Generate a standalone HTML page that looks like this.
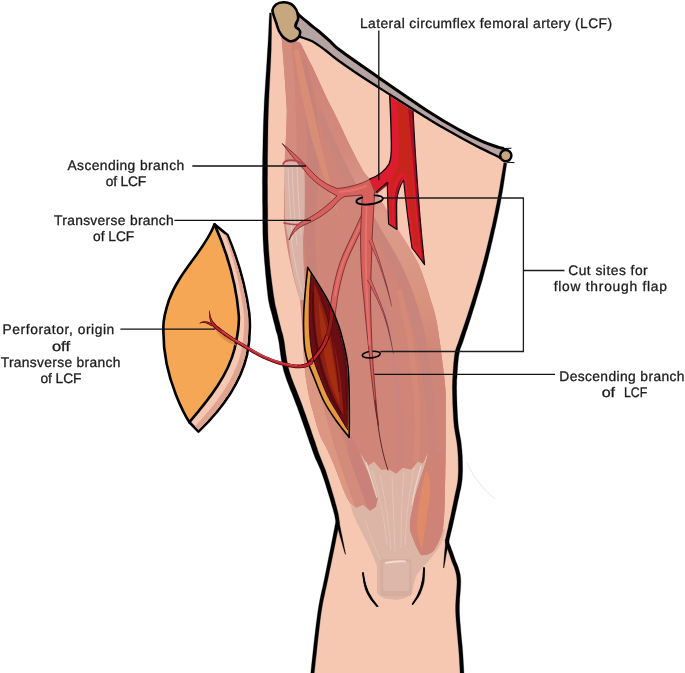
<!DOCTYPE html>
<html>
<head>
<meta charset="utf-8">
<title>Lateral circumflex femoral artery flap diagram</title>
<style>
html,body{margin:0;padding:0;background:#fff;}
body{width:685px;height:673px;overflow:hidden;font-family:"Liberation Sans",sans-serif;}
svg{display:block;}
text{font-family:"Liberation Sans",sans-serif;font-size:13.8px;fill:#1c1c1c;stroke:#1c1c1c;stroke-width:0.3px;text-rendering:geometricPrecision;}
</style>
</head>
<body>
<svg width="685" height="673" viewBox="0 0 685 673">
<defs>
  <clipPath id="thighClip">
    <path d="M270.5,12.9 L270.4,15.6 L270.4,19.0 L270.3,23.1 L270.2,27.7 L270.0,32.8 L269.8,38.3 L269.6,44.0 L269.4,50.0 L269.1,56.4 L268.7,63.3 L268.3,70.6 L267.8,78.3 L267.3,86.1 L266.9,94.0 L266.5,101.8 L266.2,109.4 L265.9,116.9 L265.7,124.6 L265.5,132.3 L265.4,139.9 L265.3,147.5 L265.2,154.9 L265.1,162.0 L265.0,168.8 L265.0,175.4 L264.9,181.8 L265.0,188.0 L265.0,194.1 L265.0,199.8 L265.1,205.2 L265.2,210.3 L265.2,215.0 L265.2,219.1 L265.2,222.6 L265.3,225.7 L265.3,228.5 L265.3,231.2 L265.4,233.9 L265.5,236.8 L265.6,240.0 L265.8,243.5 L266.0,247.2 L266.2,250.9 L266.5,254.7 L266.8,258.6 L267.1,262.4 L267.5,266.2 L267.8,270.0 L268.2,273.8 L268.6,277.7 L269.0,281.7 L269.5,285.6 L269.9,289.5 L270.4,293.1 L270.9,296.4 L271.3,299.4 L271.7,302.0 L272.2,304.1 L272.6,306.1 L273.0,307.8 L273.4,309.4 L273.8,310.9 L274.3,312.5 L274.7,314.3 L275.2,316.2 L275.6,318.1 L276.1,320.0 L276.6,321.9 L277.1,323.8 L277.5,325.7 L278.0,327.4 L278.4,329.1 L278.8,330.5 L279.1,331.6 L279.4,332.6 L279.7,333.6 L280.0,334.6 L280.4,336.0 L280.7,337.7 L281.2,340.0 L281.7,342.8 L282.1,346.1 L282.6,349.8 L283.1,353.8 L283.8,357.9 L284.5,362.1 L285.3,366.4 L286.4,370.6 L287.7,374.8 L289.2,379.1 L290.8,383.6 L292.6,388.1 L294.4,392.6 L296.2,397.2 L298.0,401.7 L299.7,406.2 L301.4,410.8 L303.1,415.6 L304.8,420.6 L306.5,425.5 L308.1,430.2 L309.7,434.6 L311.0,438.5 L312.2,441.9 L313.1,444.6 L313.8,446.6 L314.3,448.1 L314.7,449.4 L315.1,450.5 L315.5,451.7 L316.0,453.1 L316.7,454.9 L317.5,456.9 L318.4,459.0 L319.3,461.2 L320.3,463.4 L321.3,465.8 L322.4,468.5 L323.5,471.4 L324.6,474.6 L325.8,478.3 L327.2,482.7 L328.7,487.4 L330.1,492.2 L331.6,497.0 L332.9,501.6 L334.1,505.6 L335.0,509.0 L335.7,511.7 L336.3,514.0 L336.7,515.9 L336.9,517.5 L337.2,518.9 L337.3,520.0 L337.5,521.0 L337.6,521.8 L337.6,521.8 L337.3,523.4 L336.9,525.5 L336.4,527.9 L335.9,530.6 L335.3,533.7 L334.7,536.9 L334.0,540.3 L333.3,543.8 L332.6,547.5 L331.7,551.6 L330.9,555.9 L330.0,560.3 L329.0,564.9 L328.1,569.5 L327.2,574.0 L326.3,578.4 L325.4,582.6 L324.6,586.5 L323.7,590.3 L322.8,594.1 L322.0,598.2 L321.1,602.6 L320.3,607.5 L319.4,613.0 L318.5,619.7 L317.5,627.6 L316.5,636.3 L315.5,645.2 L314.6,653.8 L313.7,661.6 L313.0,668.2 L312.5,673.0 L462.0,673.0 L461.9,671.4 L461.8,669.5 L461.7,667.2 L461.5,664.5 L461.4,661.6 L461.2,658.3 L461.0,654.8 L460.7,651.0 L460.4,646.8 L459.9,642.0 L459.4,636.8 L458.9,631.4 L458.5,625.9 L458.0,620.5 L457.7,615.3 L457.5,610.5 L457.5,606.0 L457.7,601.5 L457.9,597.2 L458.3,593.0 L458.6,588.9 L458.8,585.1 L458.9,581.4 L458.7,578.0 L458.3,574.9 L457.7,572.0 L456.9,569.4 L456.1,566.9 L455.2,564.6 L454.3,562.4 L453.4,560.1 L452.6,557.9 L451.8,555.6 L451.0,553.2 L450.1,550.8 L449.3,548.5 L448.5,546.4 L447.8,544.5 L447.2,542.9 L446.8,541.7 L446.8,541.7 L447.1,540.5 L447.4,539.1 L447.8,537.3 L448.3,535.4 L448.8,533.2 L449.4,530.8 L450.0,528.2 L450.6,525.5 L451.3,522.5 L452.0,519.0 L452.8,515.3 L453.7,511.4 L454.5,507.5 L455.3,503.8 L456.1,500.3 L456.7,497.2 L457.3,494.5 L457.8,492.1 L458.3,490.0 L458.7,488.0 L459.1,486.0 L459.4,484.1 L459.7,482.1 L460.0,480.0 L460.2,477.8 L460.3,475.6 L460.4,473.3 L460.5,471.0 L460.5,468.8 L460.5,466.5 L460.4,464.2 L460.4,462.0 L460.3,459.8 L460.3,457.6 L460.2,455.4 L460.0,453.3 L459.9,451.1 L459.7,448.9 L459.5,446.6 L459.2,444.2 L458.9,441.8 L458.5,439.4 L458.1,436.9 L457.6,434.5 L457.2,431.9 L456.7,429.2 L456.3,426.3 L456.0,423.3 L455.7,420.0 L455.5,416.4 L455.3,412.6 L455.1,408.7 L454.9,404.8 L454.8,401.0 L454.7,397.4 L454.6,394.2 L454.6,391.3 L454.5,388.6 L454.5,386.2 L454.6,383.8 L454.6,381.5 L454.7,379.2 L454.9,376.9 L455.0,374.4 L455.2,371.7 L455.4,369.0 L455.6,366.1 L455.8,363.3 L456.1,360.5 L456.4,357.8 L456.7,355.3 L457.1,353.0 L457.5,351.1 L457.9,349.5 L458.3,348.2 L458.8,346.9 L459.3,345.6 L459.8,344.1 L460.5,342.3 L461.3,340.0 L462.2,337.3 L463.2,334.3 L464.3,331.1 L465.4,327.7 L466.7,324.1 L467.9,320.3 L469.2,316.3 L470.5,312.2 L471.8,307.9 L473.3,303.3 L474.8,298.5 L476.3,293.6 L477.8,288.6 L479.3,283.5 L480.7,278.5 L482.1,273.6 L483.4,268.8 L484.7,263.9 L486.0,259.0 L487.2,254.1 L488.4,249.3 L489.6,244.4 L490.7,239.6 L491.8,234.9 L492.9,230.2 L493.9,225.6 L494.9,221.0 L495.9,216.4 L496.8,211.8 L497.8,207.3 L498.6,202.8 L499.5,198.3 L500.4,193.6 L501.2,188.6 L502.1,183.4 L502.9,178.4 L503.6,173.6 L504.3,169.3 L504.9,165.7 L505.3,163.0 L499.0,152.0 L459.0,133.0 L430.0,116.0 L379.0,82.5 L337.0,54.0 L325.0,44.0 L312.0,35.0 L300.0,26.0 L285.0,28.0 Z"/>
  </clipPath>
  <filter id="noop" filterUnits="userSpaceOnUse" x="0" y="0" width="685" height="673"><feOffset dx="0" dy="0"/></filter>
  <filter id="soft" x="-10%" y="-10%" width="120%" height="120%"><feGaussianBlur stdDeviation="0.8"/></filter>
</defs>

<!-- ============ THIGH SKIN ============ -->
<g id="thigh">
  <path d="M270.5,12.9 L270.4,15.6 L270.4,19.0 L270.3,23.1 L270.2,27.7 L270.0,32.8 L269.8,38.3 L269.6,44.0 L269.4,50.0 L269.1,56.4 L268.7,63.3 L268.3,70.6 L267.8,78.3 L267.3,86.1 L266.9,94.0 L266.5,101.8 L266.2,109.4 L265.9,116.9 L265.7,124.6 L265.5,132.3 L265.4,139.9 L265.3,147.5 L265.2,154.9 L265.1,162.0 L265.0,168.8 L265.0,175.4 L264.9,181.8 L265.0,188.0 L265.0,194.1 L265.0,199.8 L265.1,205.2 L265.2,210.3 L265.2,215.0 L265.2,219.1 L265.2,222.6 L265.3,225.7 L265.3,228.5 L265.3,231.2 L265.4,233.9 L265.5,236.8 L265.6,240.0 L265.8,243.5 L266.0,247.2 L266.2,250.9 L266.5,254.7 L266.8,258.6 L267.1,262.4 L267.5,266.2 L267.8,270.0 L268.2,273.8 L268.6,277.7 L269.0,281.7 L269.5,285.6 L269.9,289.5 L270.4,293.1 L270.9,296.4 L271.3,299.4 L271.7,302.0 L272.2,304.1 L272.6,306.1 L273.0,307.8 L273.4,309.4 L273.8,310.9 L274.3,312.5 L274.7,314.3 L275.2,316.2 L275.6,318.1 L276.1,320.0 L276.6,321.9 L277.1,323.8 L277.5,325.7 L278.0,327.4 L278.4,329.1 L278.8,330.5 L279.1,331.6 L279.4,332.6 L279.7,333.6 L280.0,334.6 L280.4,336.0 L280.7,337.7 L281.2,340.0 L281.7,342.8 L282.1,346.1 L282.6,349.8 L283.1,353.8 L283.8,357.9 L284.5,362.1 L285.3,366.4 L286.4,370.6 L287.7,374.8 L289.2,379.1 L290.8,383.6 L292.6,388.1 L294.4,392.6 L296.2,397.2 L298.0,401.7 L299.7,406.2 L301.4,410.8 L303.1,415.6 L304.8,420.6 L306.5,425.5 L308.1,430.2 L309.7,434.6 L311.0,438.5 L312.2,441.9 L313.1,444.6 L313.8,446.6 L314.3,448.1 L314.7,449.4 L315.1,450.5 L315.5,451.7 L316.0,453.1 L316.7,454.9 L317.5,456.9 L318.4,459.0 L319.3,461.2 L320.3,463.4 L321.3,465.8 L322.4,468.5 L323.5,471.4 L324.6,474.6 L325.8,478.3 L327.2,482.7 L328.7,487.4 L330.1,492.2 L331.6,497.0 L332.9,501.6 L334.1,505.6 L335.0,509.0 L335.7,511.7 L336.3,514.0 L336.7,515.9 L336.9,517.5 L337.2,518.9 L337.3,520.0 L337.5,521.0 L337.6,521.8 L337.6,521.8 L337.3,523.4 L336.9,525.5 L336.4,527.9 L335.9,530.6 L335.3,533.7 L334.7,536.9 L334.0,540.3 L333.3,543.8 L332.6,547.5 L331.7,551.6 L330.9,555.9 L330.0,560.3 L329.0,564.9 L328.1,569.5 L327.2,574.0 L326.3,578.4 L325.4,582.6 L324.6,586.5 L323.7,590.3 L322.8,594.1 L322.0,598.2 L321.1,602.6 L320.3,607.5 L319.4,613.0 L318.5,619.7 L317.5,627.6 L316.5,636.3 L315.5,645.2 L314.6,653.8 L313.7,661.6 L313.0,668.2 L312.5,673.0 L462.0,673.0 L461.9,671.4 L461.8,669.5 L461.7,667.2 L461.5,664.5 L461.4,661.6 L461.2,658.3 L461.0,654.8 L460.7,651.0 L460.4,646.8 L459.9,642.0 L459.4,636.8 L458.9,631.4 L458.5,625.9 L458.0,620.5 L457.7,615.3 L457.5,610.5 L457.5,606.0 L457.7,601.5 L457.9,597.2 L458.3,593.0 L458.6,588.9 L458.8,585.1 L458.9,581.4 L458.7,578.0 L458.3,574.9 L457.7,572.0 L456.9,569.4 L456.1,566.9 L455.2,564.6 L454.3,562.4 L453.4,560.1 L452.6,557.9 L451.8,555.6 L451.0,553.2 L450.1,550.8 L449.3,548.5 L448.5,546.4 L447.8,544.5 L447.2,542.9 L446.8,541.7 L446.8,541.7 L447.1,540.5 L447.4,539.1 L447.8,537.3 L448.3,535.4 L448.8,533.2 L449.4,530.8 L450.0,528.2 L450.6,525.5 L451.3,522.5 L452.0,519.0 L452.8,515.3 L453.7,511.4 L454.5,507.5 L455.3,503.8 L456.1,500.3 L456.7,497.2 L457.3,494.5 L457.8,492.1 L458.3,490.0 L458.7,488.0 L459.1,486.0 L459.4,484.1 L459.7,482.1 L460.0,480.0 L460.2,477.8 L460.3,475.6 L460.4,473.3 L460.5,471.0 L460.5,468.8 L460.5,466.5 L460.4,464.2 L460.4,462.0 L460.3,459.8 L460.3,457.6 L460.2,455.4 L460.0,453.3 L459.9,451.1 L459.7,448.9 L459.5,446.6 L459.2,444.2 L458.9,441.8 L458.5,439.4 L458.1,436.9 L457.6,434.5 L457.2,431.9 L456.7,429.2 L456.3,426.3 L456.0,423.3 L455.7,420.0 L455.5,416.4 L455.3,412.6 L455.1,408.7 L454.9,404.8 L454.8,401.0 L454.7,397.4 L454.6,394.2 L454.6,391.3 L454.5,388.6 L454.5,386.2 L454.6,383.8 L454.6,381.5 L454.7,379.2 L454.9,376.9 L455.0,374.4 L455.2,371.7 L455.4,369.0 L455.6,366.1 L455.8,363.3 L456.1,360.5 L456.4,357.8 L456.7,355.3 L457.1,353.0 L457.5,351.1 L457.9,349.5 L458.3,348.2 L458.8,346.9 L459.3,345.6 L459.8,344.1 L460.5,342.3 L461.3,340.0 L462.2,337.3 L463.2,334.3 L464.3,331.1 L465.4,327.7 L466.7,324.1 L467.9,320.3 L469.2,316.3 L470.5,312.2 L471.8,307.9 L473.3,303.3 L474.8,298.5 L476.3,293.6 L477.8,288.6 L479.3,283.5 L480.7,278.5 L482.1,273.6 L483.4,268.8 L484.7,263.9 L486.0,259.0 L487.2,254.1 L488.4,249.3 L489.6,244.4 L490.7,239.6 L491.8,234.9 L492.9,230.2 L493.9,225.6 L494.9,221.0 L495.9,216.4 L496.8,211.8 L497.8,207.3 L498.6,202.8 L499.5,198.3 L500.4,193.6 L501.2,188.6 L502.1,183.4 L502.9,178.4 L503.6,173.6 L504.3,169.3 L504.9,165.7 L505.3,163.0 L499.0,152.0 L459.0,133.0 L430.0,116.0 L379.0,82.5 L337.0,54.0 L325.0,44.0 L312.0,35.0 L300.0,26.0 L285.0,28.0 Z" fill="#f6c8b2"/>
</g>

<!-- ============ MUSCLES ============ -->
<defs>
  <linearGradient id="rband" gradientUnits="userSpaceOnUse" x1="0" y1="60" x2="0" y2="360">
    <stop offset="0" stop-color="#cf8477"/><stop offset="0.3" stop-color="#d38a7c"/><stop offset="0.53" stop-color="#dc9c8c"/><stop offset="0.8" stop-color="#d8937f"/><stop offset="1" stop-color="#cf8577"/>
  </linearGradient>
</defs>
<g id="muscles" clip-path="url(#thighClip)">
  <!-- base muscle mass -->
  <path d="M281.5,36 C283,55 285.5,85 286.8,110 C286.5,130 285,156 284,200 L284,223 C286,245 292,275 300,300 C302,320 303,345 305.5,376 C307.5,390 309.5,400 312.5,410 C315.5,422 318,430 321.5,439 C328,450 332,460 336,470 C340,480 343,490 347,498 L350,503 L356,508 L363,505 L370,511 L376,507 L378,498 C375,490 372,482 369.5,475 C366,467 363,460 360,453 L368,466 L374,462 L381,470 L389,469.6 L396,474 L403,468 L411,470 L418,462 L423,464 L428,453 C424,470 415,490 412,509.5 C410,518 409,525 410,531 C413,540 417,550 421,555.5 C426,556 431,554 434,551 C438,545 441,538 442.7,531 C444.5,518 445,500 445,487.6 L446,440 L446,400 C446,392 445,385 444.4,378 C443,366 441.5,355 440,343 C438,328 436,314 431,301 C428,290 424,278 419,265 C413,253 406,242 398,230 C393,220 387,210 380.5,200 C378,194 375,188 372.5,182.6 C369,178 366,175 363.4,171.4 C356,158 349,144 343,131 C338,120 333,110 328,100.7 C323,90 318,79 313,68 C308,59 304,50 300,42.6 Z" fill="#cf8577"/>
  <!-- upper right lighter band (sartorius edge) -->
  <path d="M300,42.6 C304,50 308,59 313,68 C318,79 323,90 328,100.7 C333,110 338,120 343,131 C349,144 356,158 363.4,171.4 C366,175 369,178 372.5,182.6 C375,188 378,194 380.5,200 C387,210 393,220 398,230 C406,242 413,253 419,265 C424,278 428,290 431,301 C436,314 438,328 440,343 C441.5,355 443,366 444.4,378 C445,385 446,392 446,400 L446,440 L445,487.6 L436,487 C437,460 436,430 434,400 C432,375 428,350 423,325 C418,305 411,285 402,266 C394,250 384,235 376,220 C368,205 358,188 350,172 C340,152 330,130 322,110 C314,90 306,68 298,46 Z" fill="url(#rband)"/>
  <!-- mauve inner streak beside light band -->
  <path d="M322,112 C330,132 340,154 350,174 C358,190 368,207 376,222 C384,237 394,252 402,268 C411,287 418,307 423,327 C428,352 432,377 434,402 C436,432 437,462 436,490 L428,490 C430,460 429,430 426,402 C423,377 419,352 414,330 C409,310 402,290 394,272 C386,256 376,240 368,226 C360,210 350,192 342,176 C333,158 324,136 318,118 Z" fill="#c48580" opacity="0.5"/>
  <!-- upper left lighter band -->
  <path d="M281.5,36 C283,55 285.5,85 286.8,110 C286.8,130 285,150 284.5,165 L297,165 C297,140 296,110 295,90 C294,70 292,55 291,42 Z" fill="#d38c7e"/>
  <!-- mauve band right of fascia -->
  <path d="M300,60 C302,85 305,110 307,135 C307,170 304,200 304,232 C305,255 308,275 311,295 L320,300 C317,278 315,255 315,232 C316,200 319,170 320,140 C318,112 312,85 306,60 Z" fill="#c5817b" opacity="0.75"/>
  <!-- central orange streaks -->
  <path d="M294,50 C298,80 304,110 312,140 C320,168 330,195 340,220 C334,196 326,168 320,140 C314,112 306,80 299,50 Z" fill="#d98e76" opacity="0.9"/>
  <path d="M396,290 C404,320 410,355 413,390 C415,415 415,440 413,462 L419,462 C421,440 421,415 419,390 C416,355 410,320 402,290 Z" fill="#d98e76" opacity="0.55"/>
  <path d="M380,300 C388,335 393,370 396,405 C398,430 398,450 397,470 L402,468 C403,450 403,430 401,405 C398,370 393,335 386,300 Z" fill="#c98683" opacity="0.6"/>
  <!-- lower left lateral bands -->
  <path d="M302.5,335 C303,350 304,365 305.5,376 C307.5,390 309.5,400 312.5,410 C315.5,422 318,430 321.5,439 C328,450 332,460 336,470 C340,480 343,490 347,498 L350,503 L356,508 C350,492 344,476 339,460 C333,442 327,420 322,400 C317,380 312,358 309,340 Z" fill="#dc9782"/>
  <path d="M309,340 C312,358 317,380 322,400 C327,420 333,442 339,460 C344,476 350,492 356,508 L363,505 L368,509 C362,492 355,474 349,456 C343,438 337,418 332,400 C327,382 322,362 318,345 Z" fill="#d38b7c"/>
  <path d="M349,456 C355,474 362,492 368,509 L370,511 L376,507 L378,498 C375,490 372,482 369.5,475 C366,467 363,460 360,453 C356,445 352,437 348,430 C347,440 347,448 349,456 Z" fill="#c9817a"/>
  <!-- vastus medialis (lower right) -->
  <path d="M428,453 C424,470 415,490 412,509.5 C410,518 409,525 410,531 C413,540 417,550 421,555.5 C426,556 431,554 434,551 C438,545 441,538 442.7,531 C444.5,518 445,500 445,487.6 L445,450 Z" fill="#cf8377"/>
  <path d="M426,470 C421,490 417,510 417,528 C418,538 420,545 422,550 C424,535 427,515 430,495 C431,485 430,476 426,470 Z" fill="#e08c68" opacity="0.9"/>
  <!-- pale fascia patch (upper-left) -->
  <path d="M284.5,162 C290,159 298,159 304,163 C305,180 305,200 304.5,220 C304,228 303.4,234 303,240 C303,248 303.2,255 303.5,262 C304,270 304.5,278 305,285 L306,300 L300,300 C298.5,295 297,290 296,285 C294,277 292.5,270 291,262 C290,255 289.2,248 288.5,240 C287,233 285.8,226 285,220 C284.6,200 284.3,180 284.5,162 Z" fill="#dcb9ad" opacity="0.88"/>
  <path d="M288,168 C289,190 290,215 293,240 M292,166 C293,190 294,215 297,245 M297,166 C298,190 299,210 301,235 M291,235 C293,255 297,275 302,292" stroke="#efdcd4" stroke-width="0.8" fill="none" opacity="0.6"/>
</g>

<!-- ============ TENDON / PATELLA ============ -->
<g id="tendon" clip-path="url(#thighClip)">
  <!-- pale quadriceps tendon -->
  <path d="M360,453 L368,466 L374,462 L381,470 L389,469.6 L396,474 L403,468 L411,470 L418,462 L423,464 L428,453 C424,470 415,490 412,509.5 C410,518 409,525 410,531 C413,540 417,550 421,555.5 C426,556 431,554 434,551 C438,545 441,538 442.7,531 L445,527 C445,535 442,543 438,549 C430,560 422,568 416.5,575 C414,582 413,588 412,592.7 C408,599 396,601 390,599 C384,599 379,596 377,592.7 L377,566.5 C374,558 371,551 368,544.5 C362,533 357,523 353,514 L350,503 L356,508 L363,505 L370,511 L376,507 L378,498 C375,490 372,482 369.5,475 C366,467 363,460 360,453 Z" fill="#dcb5a7"/>
  <!-- streaks -->
  <path d="M372,470 C378,490 384,515 387,545 M380,474 C384,495 389,520 391,550 M392,476 C393,500 394,525 395,552 M404,472 C402,495 401,520 401,548 M414,468 C410,490 406,515 405,545 M365,520 C370,535 375,548 380,560" stroke="#e8cabd" stroke-width="0.9" fill="none" opacity="0.7"/>
  <path d="M366,462 C370,475 374,488 377,498 M421,466 C417,480 414,492 412,505" stroke="#f1dcd2" stroke-width="1.2" fill="none" opacity="0.8"/>
  <!-- patella block -->
  <rect x="380.5" y="559" width="31" height="37" rx="3" fill="#d6ad9f"/>
  <rect x="383.3" y="561.5" width="26" height="29.5" rx="2.5" fill="#ddb8aa"/>
  <path d="M386,562.8 C392,561.4 398,561 405,561.4" stroke="#f3dccd" stroke-width="1.8" fill="none" stroke-linecap="round"/>
</g>
<g id="patellaLines" fill="none" stroke="#000" stroke-linecap="round">
  <path d="M363,573 C364,586 369,598 377,606" stroke-width="1.8"/>
  <path d="M424,568 C424,582 420,595 412.7,604" stroke-width="1.8"/>
</g>

<!-- ============ PINK VESSELS UNDER MUSCLE ============ -->
<g id="vessels" clip-path="url(#thighClip)" stroke-linecap="round" stroke-linejoin="round" fill="none">
  <!-- oblique branch towards wound (drawn first, under trunk) -->
  <path d="M366,212 C360,226 354,238 348,251 C342,263 338,278 335,295 C333,308 332,316 331,322" stroke="#7e3436" stroke-width="6.8"/>
  <path d="M366,212 C360,226 354,238 348,251 C342,263 338,278 335,295 C333,308 332,316 331,322" stroke="#d8605d" stroke-width="5"/>
  <path d="M364,216 C358,230 352,242 346.5,254 C341,266 337.5,280 335,296" stroke="#e2746c" stroke-width="1.8"/>
  <!-- LCF trunk + ascending + transverse + descending, one filled shape -->
  <path d="M369.5,179.5 C362,183.5 352,187 337.3,188.5 C330,186 322,182 316,176 C308,168 300,158 282.2,143.5 C292,156 298,164 304.5,170 C310,178 318,185 330,192 L337,196 C328,205 318,213 308,218.5 C300,222 294,225 289,240 C293,232 298,228 304,225 C314,221 326,214 334,206 C338,201 341,198 345,196.5 C351,196 357,195.5 362,195 L362,201 C361.5,215 360.5,230 360.6,240 C360.8,262 361.5,280 364,300 C365.5,318 367.5,338 369.3,354 C370.8,372 373.2,392 375.6,410 C376.6,416 377.6,421 378.6,426 C378,420 377.4,415 376.8,410 C375,390 373.5,372 372.3,354 C371.5,335 370.8,318 370.5,300 C370.5,280 371.5,262 372,240 C372.5,228 373.5,214 374,203 L374.7,192 Z" fill="#d8605d" stroke="#7e3436" stroke-width="1"/>
  <path d="M366,186 C358,189.5 350,191 340,192" stroke="#e2746c" stroke-width="2.2"/>
  <path d="M366.5,206 C366,225 365.5,245 366,270 C366.5,295 368,320 369.5,345" stroke="#e2746c" stroke-width="2"/>
  <!-- ascending branch side hook -->
  <path d="M306,166 C300,161 292,159 286,161 C284,162 283.5,163 283.2,164" stroke="#b2454f" stroke-width="1.9"/>
  <!-- transverse side twig -->
  <path d="M299,224.5 C294,225 289,224 284,223" stroke="#b2454f" stroke-width="1.6"/>
  <!-- right side twigs -->
  <path d="M368.5,240.8 L368.9,241.4 L369.3,242.3 L369.8,243.4 L370.3,244.5 L370.8,245.8 L371.4,247.1 L372.0,248.4 L372.5,249.6 L373.0,250.8 L373.6,252.0 L374.1,253.1 L374.7,254.3 L375.2,255.6 L375.8,256.8 L376.3,258.1 L376.9,259.4 L377.4,260.8 L377.9,262.2 L378.5,263.7 L379.0,265.1 L379.5,266.7 L380.1,268.2 L380.6,269.7 L381.1,271.3 L381.7,272.8 L382.2,274.4 L382.7,276.0 L383.3,277.7 L383.8,279.3 L384.3,280.9 L384.8,282.6 L385.3,284.2 L385.8,285.8 L386.3,287.5 L386.8,289.2 L387.3,290.9 L387.7,292.5 L388.2,294.1 L388.6,295.7 L389.0,297.1 L389.4,298.5 L389.8,300.0 L390.1,301.4 L390.5,302.7 L390.8,303.9 L391.0,305.0 L391.3,305.9 L391.5,306.7 L391.9,306.5 L391.8,305.8 L391.6,304.9 L391.4,303.8 L391.2,302.5 L390.9,301.2 L390.6,299.8 L390.3,298.3 L390.0,296.9 L389.6,295.4 L389.3,293.9 L388.9,292.2 L388.4,290.6 L388.0,288.9 L387.6,287.2 L387.1,285.5 L386.7,283.8 L386.2,282.2 L385.8,280.5 L385.3,278.9 L384.8,277.2 L384.3,275.6 L383.8,273.9 L383.3,272.3 L382.9,270.7 L382.4,269.2 L381.9,267.6 L381.5,266.0 L381.0,264.5 L380.5,263.0 L380.1,261.5 L379.6,260.0 L379.1,258.6 L378.7,257.2 L378.2,255.9 L377.7,254.6 L377.3,253.3 L376.8,252.0 L376.4,250.8 L375.9,249.6 L375.5,248.4 L375.1,247.2 L374.6,245.8 L374.2,244.5 L373.7,243.2 L373.3,242.0 L373.0,240.9 L372.7,240.0 L372.5,239.2 Z" fill="#7a3a42" stroke="none"/>
  <path d="M369.2,240.5 L369.5,241.2 L369.9,242.1 L370.4,243.1 L370.9,244.3 L371.5,245.6 L372.0,246.9 L372.6,248.1 L373.1,249.4 L373.6,250.5 L374.2,251.7 L374.7,252.9 L375.3,254.1 L375.8,255.3 L376.4,256.6 L376.9,257.9 L377.5,259.2 L378.0,260.6 L378.6,262.0 L379.1,263.4 L379.6,264.9 L380.2,266.5 L380.7,268.0 L381.2,269.5 L381.8,271.1 L382.3,272.6 L382.8,274.2 L383.4,275.8 L383.9,277.5 L384.4,279.1 L385.0,280.7 L385.5,282.4 L386.0,284.0 L386.5,285.6 L386.9,287.3 L387.4,289.0 L387.9,290.7 L388.3,292.4 L388.7,294.0 L389.1,295.5 L389.5,297.0 L389.9,298.4 L390.2,299.9 L390.5,301.3 L390.8,302.6 L391.1,303.9 L391.3,305.0 L391.5,305.9 L391.7,306.6 L391.7,306.6 L391.5,305.9 L391.3,305.0 L391.1,303.9 L390.8,302.6 L390.5,301.3 L390.2,299.9 L389.9,298.4 L389.5,297.0 L389.1,295.5 L388.7,294.0 L388.3,292.4 L387.9,290.7 L387.4,289.0 L386.9,287.3 L386.5,285.6 L386.0,284.0 L385.6,282.4 L385.1,280.7 L384.6,279.1 L384.2,277.4 L383.7,275.8 L383.2,274.1 L382.7,272.5 L382.2,270.9 L381.8,269.4 L381.3,267.8 L380.8,266.2 L380.4,264.7 L379.9,263.2 L379.4,261.7 L379.0,260.2 L378.5,258.8 L378.1,257.4 L377.6,256.1 L377.1,254.8 L376.7,253.5 L376.2,252.3 L375.8,251.1 L375.3,249.9 L374.9,248.6 L374.5,247.4 L374.0,246.1 L373.5,244.8 L373.1,243.5 L372.7,242.2 L372.3,241.1 L372.0,240.2 L371.8,239.5 Z" fill="#d8605d" stroke="none"/>
  <path d="M366.9,279.9 L367.3,280.5 L367.7,281.4 L368.3,282.4 L368.9,283.6 L369.6,284.8 L370.2,286.1 L370.9,287.4 L371.5,288.7 L372.2,289.9 L372.8,291.2 L373.5,292.5 L374.2,293.9 L374.9,295.2 L375.5,296.6 L376.2,298.0 L376.9,299.5 L377.6,300.9 L378.2,302.5 L378.9,304.0 L379.6,305.5 L380.3,307.1 L380.9,308.7 L381.5,310.3 L382.2,311.8 L382.7,313.3 L383.3,314.8 L383.8,316.3 L384.3,317.8 L384.8,319.4 L385.3,320.9 L385.8,322.5 L386.3,324.2 L386.8,325.9 L387.3,327.7 L387.8,329.6 L388.2,331.5 L388.7,333.4 L389.1,335.3 L389.6,337.2 L390.0,339.1 L390.5,341.1 L390.9,343.2 L391.4,345.4 L391.8,347.5 L392.2,349.5 L392.6,351.4 L392.9,352.9 L393.2,354.0 L393.6,354.0 L393.5,352.8 L393.2,351.2 L392.9,349.4 L392.5,347.4 L392.2,345.2 L391.8,343.0 L391.4,340.9 L391.0,338.9 L390.6,337.0 L390.2,335.1 L389.8,333.1 L389.4,331.2 L389.0,329.3 L388.6,327.4 L388.1,325.6 L387.7,323.8 L387.2,322.1 L386.8,320.5 L386.3,318.9 L385.9,317.3 L385.4,315.8 L384.9,314.3 L384.4,312.8 L383.8,311.2 L383.3,309.6 L382.7,308.0 L382.1,306.4 L381.5,304.8 L380.9,303.2 L380.3,301.6 L379.7,300.0 L379.1,298.5 L378.5,297.0 L377.9,295.6 L377.3,294.1 L376.7,292.7 L376.1,291.3 L375.6,289.9 L375.0,288.6 L374.5,287.3 L373.9,286.0 L373.4,284.7 L372.8,283.3 L372.3,282.0 L371.8,280.8 L371.3,279.7 L371.0,278.8 L370.7,278.1 Z" fill="#7a3a42" stroke="none"/>
  <path d="M367.5,279.6 L367.9,280.3 L368.4,281.1 L368.9,282.2 L369.5,283.3 L370.2,284.6 L370.8,285.8 L371.5,287.1 L372.1,288.4 L372.8,289.6 L373.4,290.9 L374.1,292.2 L374.8,293.6 L375.5,295.0 L376.1,296.4 L376.8,297.8 L377.5,299.2 L378.2,300.7 L378.8,302.2 L379.5,303.7 L380.2,305.3 L380.9,306.9 L381.5,308.5 L382.2,310.0 L382.8,311.6 L383.3,313.1 L383.9,314.6 L384.4,316.1 L385.0,317.6 L385.5,319.2 L386.0,320.7 L386.5,322.3 L387.0,324.0 L387.5,325.8 L387.9,327.6 L388.4,329.4 L388.8,331.3 L389.3,333.3 L389.7,335.2 L390.1,337.1 L390.5,339.0 L390.9,341.0 L391.3,343.1 L391.8,345.3 L392.2,347.4 L392.6,349.5 L392.9,351.3 L393.2,352.8 L393.4,354.0 L393.4,354.0 L393.2,352.8 L392.9,351.3 L392.6,349.5 L392.2,347.4 L391.8,345.3 L391.3,343.1 L390.9,341.0 L390.5,339.0 L390.1,337.1 L389.7,335.2 L389.3,333.3 L388.8,331.3 L388.4,329.4 L387.9,327.6 L387.5,325.8 L387.0,324.0 L386.6,322.3 L386.1,320.7 L385.7,319.1 L385.2,317.6 L384.7,316.0 L384.3,314.5 L383.8,313.0 L383.2,311.4 L382.7,309.8 L382.1,308.2 L381.5,306.6 L380.9,305.0 L380.3,303.4 L379.7,301.8 L379.1,300.3 L378.5,298.8 L377.9,297.3 L377.3,295.8 L376.7,294.4 L376.1,293.0 L375.5,291.6 L375.0,290.2 L374.4,288.9 L373.9,287.6 L373.3,286.3 L372.8,285.0 L372.2,283.6 L371.7,282.3 L371.1,281.1 L370.7,280.0 L370.3,279.1 L370.1,278.4 Z" fill="#d8605d" stroke="none"/>
  <path d="M375.2,400 C376.2,411 377.4,421 379,432 C381.5,448 384.5,460 388,470" stroke="#5a2a28" stroke-width="1"/>
</g>

<!-- ============ FEMORAL ARTERY (red) ============ -->
<g id="artery" clip-path="url(#thighClip)">
  <!-- fill -->
  <path d="M389.7,96 L413,111 C414,130 415,150 416.5,170 C418.5,200 421,232 424.6,264.7 C420,258 416,253 412,248 C409,228 406,204 403.6,180 C400.3,185 397.5,192 396.7,202 C396.5,211 396.8,220 397,229.4 C394,227.6 391.5,226 388.6,224 C388,210 387.5,196 387.3,182.6 C383,185.5 380,189 375.9,192.2 C373.5,188 371.5,184 369.6,179.2 C378,176 385,171 389,164 C392,158 391.5,150 391.3,140 C391,125 390.5,110 389.7,96 Z" fill="#df1b30"/>
  <!-- mid tone core -->
  <path d="M397,101 L408.5,108.5 C409.5,130 411,150 412,170 C414,200 417,230 420.5,255 C418,250 416,247 414.5,245 C411.5,222 408.5,198 406.2,175 C404,172.5 401,173 398.5,175.5 C395,180.5 392.5,186 392,196 L391.7,222 L390.6,221.3 C390.1,208 389.9,196 390,184 C392.5,177 396.5,170 398,163 C399.5,150 398.5,125 397,101 Z" fill="#c7241b"/>
  <!-- dark right edge -->
  <path d="M408,108.2 L413,111 C414,130 415,150 416.5,170 C418.5,200 421,232 424.6,264.7 L422.3,261 C419,232 416,200 413.5,170 C412,150 410,130 408,108.2 Z" fill="#a51228"/>
  <!-- dark accents -->
  <path d="M404.8,175.5 C400,180 397.3,190 396.7,202 L397,229 L395.2,228 C394.6,215 394.4,203 395,195 C396,186 399.5,179 404.8,175.5 Z" fill="#a51228"/>
  <path d="M375.9,192.2 C380,189 383,185.5 387.3,182.6 L388.8,181.6 L389,184.6 C385,187 381,190.5 377,193.8 Z" fill="#a51228"/>
  <!-- outline (no stroke on the muscle-covered diagonal edge) -->
  <path d="M369.6,179.2 C378,176 385,171 389,164 C392,158 391.5,150 391.3,140 C391,125 390.5,110 389.7,96" fill="none" stroke="#12090a" stroke-width="1.4" stroke-linecap="round"/>
  <path d="M413,111 C414,130 415,150 416.5,170 C418.5,200 421,232 424.6,264.7 C420,258 416,253 412,248 C409,228 406,204 403.6,180 C400.3,185 397.5,192 396.7,202 C396.5,211 396.8,220 397,229.4 C394,227.6 391.5,226 388.6,224 C388,210 387.5,196 387.3,182.6 C383,185.5 380,189 375.9,192.2" fill="none" stroke="#12090a" stroke-width="1.2" stroke-linejoin="round" stroke-linecap="round"/>
</g>

<!-- ============ WOUND (donor site) ============ -->
<g id="wound">
  <clipPath id="woundClip"><path d="M311.0,274.0 C312.4,276.1 316.1,281.5 319.1,286.6 C322.1,291.7 326.0,297.8 329.2,304.6 C332.4,311.4 335.8,319.6 338.3,327.2 C340.8,334.8 342.9,343.4 344.3,350.0 C345.8,356.6 346.4,361.0 347.0,367.0 C347.6,373.0 347.8,378.8 348.0,386.0 C348.2,393.2 348.2,402.7 348.2,410.0 C348.2,417.3 347.9,426.7 347.8,430.0 C346.3,427.6 342.2,420.9 339.0,415.5 C335.8,410.1 331.6,403.9 328.4,397.5 C325.2,391.1 322.1,382.8 319.8,377.0 C317.5,371.2 316.0,367.5 314.6,363.0 C313.2,358.5 312.2,355.0 311.4,350.0 C310.6,345.0 310.0,339.1 309.6,333.0 C309.2,326.9 309.2,320.7 309.2,313.5 C309.2,306.3 309.5,296.6 309.8,290.0 C310.1,283.4 310.8,276.7 311.0,274.0 Z"/></clipPath>
  <clipPath id="woundOuterClip"><path d="M307.7,267.4 C309.6,270.4 315.4,279.3 319.1,285.4 C322.8,291.5 326.5,297.2 329.8,304.1 C333.1,311.0 336.5,319.2 339.1,326.9 C341.7,334.5 343.7,343.3 345.2,350.0 C346.7,356.7 347.4,361.0 348.0,367.0 C348.6,373.0 348.8,378.8 349.0,386.0 C349.2,393.2 349.3,401.4 349.3,410.0 C349.3,418.6 349.2,432.9 349.2,437.5 C346.8,434.4 339.3,425.2 335.0,419.0 C330.7,412.8 326.8,407.0 323.3,400.0 C319.8,393.0 316.3,383.2 313.8,377.0 C311.3,370.8 309.7,367.5 308.2,363.0 C306.7,358.5 305.8,354.9 305.0,350.0 C304.2,345.1 303.9,339.7 303.7,333.6 C303.5,327.5 303.4,321.3 303.7,313.5 C304.0,305.7 305.0,294.4 305.7,286.7 C306.4,279.0 307.4,270.6 307.7,267.4 Z"/></clipPath>
  <path d="M307.7,267.4 C309.6,270.4 315.4,279.3 319.1,285.4 C322.8,291.5 326.5,297.2 329.8,304.1 C333.1,311.0 336.5,319.2 339.1,326.9 C341.7,334.5 343.7,343.3 345.2,350.0 C346.7,356.7 347.4,361.0 348.0,367.0 C348.6,373.0 348.8,378.8 349.0,386.0 C349.2,393.2 349.3,401.4 349.3,410.0 C349.3,418.6 349.2,432.9 349.2,437.5 C346.8,434.4 339.3,425.2 335.0,419.0 C330.7,412.8 326.8,407.0 323.3,400.0 C319.8,393.0 316.3,383.2 313.8,377.0 C311.3,370.8 309.7,367.5 308.2,363.0 C306.7,358.5 305.8,354.9 305.0,350.0 C304.2,345.1 303.9,339.7 303.7,333.6 C303.5,327.5 303.4,321.3 303.7,313.5 C304.0,305.7 305.0,294.4 305.7,286.7 C306.4,279.0 307.4,270.6 307.7,267.4 Z" fill="#ea983e"/>
  <path d="M311.0,274.0 C312.4,276.1 316.1,281.5 319.1,286.6 C322.1,291.7 326.0,297.8 329.2,304.6 C332.4,311.4 335.8,319.6 338.3,327.2 C340.8,334.8 342.9,343.4 344.3,350.0 C345.8,356.6 346.4,361.0 347.0,367.0 C347.6,373.0 347.8,378.8 348.0,386.0 C348.2,393.2 348.2,402.7 348.2,410.0 C348.2,417.3 347.9,426.7 347.8,430.0 C346.3,427.6 342.2,420.9 339.0,415.5 C335.8,410.1 331.6,403.9 328.4,397.5 C325.2,391.1 322.1,382.8 319.8,377.0 C317.5,371.2 316.0,367.5 314.6,363.0 C313.2,358.5 312.2,355.0 311.4,350.0 C310.6,345.0 310.0,339.1 309.6,333.0 C309.2,326.9 309.2,320.7 309.2,313.5 C309.2,306.3 309.5,296.6 309.8,290.0 C310.1,283.4 310.8,276.7 311.0,274.0 Z" fill="#6b0e14"/>
  <g clip-path="url(#woundClip)">
    <path d="M314.5,283.0 C315.5,285.8 318.3,293.8 320.5,300.0 C322.7,306.2 325.3,313.0 327.5,320.0 C329.7,327.0 331.7,334.5 333.5,342.0 C335.3,349.5 337.2,357.0 338.5,365.0 C339.8,373.0 340.7,381.7 341.5,390.0 C342.3,398.3 343.2,410.8 343.5,415.0 C342.3,412.8 338.8,406.8 336.5,402.0 C334.2,397.2 331.7,391.7 329.5,386.0 C327.3,380.3 325.3,374.3 323.5,368.0 C321.7,361.7 319.9,355.2 318.5,348.0 C317.1,340.8 315.9,333.0 315.2,325.0 C314.4,317.0 314.1,307.0 314.0,300.0 C313.9,293.0 314.4,285.8 314.5,283.0 Z" fill="#8f1f10"/>
    <path d="M318.5,300.0 C319.3,303.0 321.7,311.3 323.5,318.0 C325.3,324.7 327.8,332.7 329.5,340.0 C331.2,347.3 332.2,354.5 333.5,362.0 C334.8,369.5 336.4,377.8 337.5,385.0 C338.6,392.2 339.6,401.7 340.0,405.0 C338.9,402.5 335.5,395.5 333.5,390.0 C331.5,384.5 329.6,378.3 328.0,372.0 C326.4,365.7 325.2,359.3 324.0,352.0 C322.8,344.7 321.4,336.7 320.5,328.0 C319.6,319.3 318.8,304.7 318.5,300.0 Z" fill="#a52e10"/>
    <path d="M313.0,292.0 C313.1,296.7 312.8,310.7 313.5,320.0 C314.2,329.3 315.4,339.0 317.0,348.0 C318.6,357.0 320.5,365.7 323.0,374.0 C325.5,382.3 329.0,391.3 332.0,398.0 C335.0,404.7 339.5,411.3 341.0,414.0" fill="none" stroke="#4d0a10" stroke-width="2.2" opacity="0.8"/>
    <path d="M321.5,296.0 C322.5,299.7 325.7,310.3 327.5,318.0 C329.3,325.7 331.0,334.0 332.5,342.0 C334.0,350.0 335.3,357.7 336.5,366.0 C337.7,374.3 339.0,387.7 339.5,392.0" fill="none" stroke="#5c0c12" stroke-width="1.6" opacity="0.75"/>
    <path d="M324.0,290.0 C325.3,293.0 329.5,301.3 332.0,308.0 C334.5,314.7 337.0,322.7 339.0,330.0 C341.0,337.3 342.8,343.7 344.0,352.0 C345.2,360.3 346.0,370.3 346.5,380.0 C347.0,389.7 346.9,405.0 347.0,410.0" fill="none" stroke="#5a0c14" stroke-width="3" opacity="0.85"/>
    <path d="M331.0,303.0 C331.1,305.0 331.7,311.0 331.5,315.0 C331.3,319.0 330.9,322.8 330.0,327.0 C329.1,331.2 327.7,336.0 326.0,340.0 C324.3,344.0 322.2,347.8 320.0,351.0 C317.8,354.2 315.3,357.2 313.0,359.5 C310.7,361.8 307.2,363.8 306.0,364.6" fill="none" stroke="#2a0507" stroke-width="4.6" opacity="0.55"/>
    <path d="M331.0,303.0 C331.1,305.0 331.7,311.0 331.5,315.0 C331.3,319.0 330.9,322.8 330.0,327.0 C329.1,331.2 327.7,336.0 326.0,340.0 C324.3,344.0 322.2,347.8 320.0,351.0 C317.8,354.2 315.3,357.2 313.0,359.5 C310.7,361.8 307.2,363.8 306.0,364.6" fill="none" stroke="#9a1d14" stroke-width="3.2" opacity="0.9"/>
  </g>
  <g clip-path="url(#woundOuterClip)">
    <path d="M327.5,336.0 C326.9,337.4 325.2,342.0 324.0,344.5 C322.8,347.0 321.8,348.5 320.0,351.0 C318.2,353.5 315.3,357.2 313.0,359.5 C310.7,361.8 307.2,363.8 306.0,364.6" fill="none" stroke="#2a0507" stroke-width="4.4"/>
    <path d="M327.5,336.0 C326.9,337.4 325.2,342.0 324.0,344.5 C322.8,347.0 321.8,348.5 320.0,351.0 C318.2,353.5 315.3,357.2 313.0,359.5 C310.7,361.8 307.2,363.8 306.0,364.6" fill="none" stroke="#c4222a" stroke-width="2.8"/>
  </g>
  <path d="M311.0,274.0 C310.8,276.7 310.1,283.4 309.8,290.0 C309.5,296.6 309.2,306.3 309.2,313.5 C309.2,320.7 309.2,326.9 309.6,333.0 C310.0,339.1 310.6,345.0 311.4,350.0 C312.2,355.0 313.2,358.5 314.6,363.0 C316.0,367.5 317.5,371.2 319.8,377.0 C322.1,382.8 325.2,391.1 328.4,397.5 C331.6,403.9 335.8,410.1 339.0,415.5 C342.2,420.9 346.3,427.6 347.8,430.0" fill="none" stroke="#1a0405" stroke-width="0.9"/>
  <path d="M307.7,267.4 C309.6,270.4 315.4,279.3 319.1,285.4 C322.8,291.5 326.5,297.2 329.8,304.1 C333.1,311.0 336.5,319.2 339.1,326.9 C341.7,334.5 343.7,343.3 345.2,350.0 C346.7,356.7 347.4,361.0 348.0,367.0 C348.6,373.0 348.8,378.8 349.0,386.0 C349.2,393.2 349.3,401.4 349.3,410.0 C349.3,418.6 349.2,432.9 349.2,437.5 C346.8,434.4 339.3,425.2 335.0,419.0 C330.7,412.8 326.8,407.0 323.3,400.0 C319.8,393.0 316.3,383.2 313.8,377.0 C311.3,370.8 309.7,367.5 308.2,363.0 C306.7,358.5 305.8,354.9 305.0,350.0 C304.2,345.1 303.9,339.7 303.7,333.6 C303.5,327.5 303.4,321.3 303.7,313.5 C304.0,305.7 305.0,294.4 305.7,286.7 C306.4,279.0 307.4,270.6 307.7,267.4 Z" fill="none" stroke="#000" stroke-width="1.6" stroke-linejoin="round"/>
</g>

<!-- ============ THIGH OUTLINE ============ -->
<g id="outline" fill="#000" stroke="#000" stroke-width="0.3" stroke-linejoin="round">
  <path d="M269.6,12.9 L269.4,15.6 L269.2,19.0 L269.0,23.1 L268.8,27.7 L268.6,32.8 L268.3,38.2 L268.0,44.0 L267.6,49.9 L267.2,56.3 L266.8,63.2 L266.3,70.5 L265.8,78.2 L265.3,86.0 L264.8,93.9 L264.3,101.7 L264.0,109.3 L263.7,116.8 L263.4,124.5 L263.2,132.2 L263.0,139.9 L262.9,147.5 L262.7,154.8 L262.6,162.0 L262.5,168.8 L262.5,175.3 L262.4,181.8 L262.5,188.0 L262.5,194.1 L262.5,199.8 L262.6,205.3 L262.7,210.4 L262.7,215.0 L262.7,219.1 L262.7,222.6 L262.8,225.7 L262.8,228.5 L262.8,231.2 L262.9,234.0 L263.0,236.9 L263.1,240.1 L263.3,243.7 L263.5,247.3 L263.7,251.1 L264.0,254.9 L264.3,258.8 L264.6,262.6 L265.0,266.5 L265.3,270.2 L265.6,274.1 L266.0,278.0 L266.4,282.0 L266.8,286.0 L267.2,289.8 L267.6,293.5 L268.0,296.8 L268.4,299.9 L268.9,302.5 L269.4,304.7 L269.8,306.7 L270.3,308.5 L270.7,310.1 L271.2,311.6 L271.6,313.2 L272.1,314.9 L272.5,316.8 L273.0,318.7 L273.5,320.7 L274.0,322.6 L274.5,324.5 L275.0,326.3 L275.4,328.1 L275.8,329.8 L276.2,331.2 L276.6,332.4 L276.9,333.4 L277.2,334.3 L277.5,335.3 L277.8,336.6 L278.1,338.3 L278.6,340.5 L279.1,343.2 L279.5,346.5 L280.0,350.2 L280.5,354.1 L281.1,358.3 L281.9,362.6 L282.8,367.0 L283.8,371.3 L285.2,375.6 L286.7,380.0 L288.4,384.5 L290.1,389.1 L292.0,393.6 L293.8,398.2 L295.5,402.7 L297.2,407.1 L298.9,411.7 L300.6,416.5 L302.3,421.4 L304.0,426.3 L305.7,431.0 L307.2,435.4 L308.6,439.4 L309.7,442.8 L310.7,445.4 L311.4,447.4 L311.9,448.9 L312.3,450.2 L312.7,451.3 L313.1,452.6 L313.7,454.0 L314.4,455.8 L315.2,457.9 L316.1,460.0 L317.1,462.1 L318.1,464.3 L319.2,466.7 L320.3,469.3 L321.4,472.2 L322.5,475.3 L323.8,479.0 L325.2,483.3 L326.6,488.0 L328.1,492.8 L329.6,497.6 L330.9,502.1 L332.1,506.2 L333.1,509.5 L333.8,512.2 L334.4,514.4 L334.8,516.3 L335.1,517.9 L335.3,519.2 L335.5,520.3 L335.7,521.2 L335.8,522.1 L339.4,521.5 L339.3,520.7 L339.1,519.7 L339.0,518.6 L338.8,517.2 L338.5,515.6 L338.2,513.6 L337.6,511.2 L336.9,508.5 L336.0,505.1 L334.9,501.0 L333.6,496.4 L332.1,491.6 L330.7,486.8 L329.3,482.0 L327.9,477.7 L326.7,473.9 L325.6,470.6 L324.5,467.7 L323.4,465.0 L322.4,462.5 L321.5,460.2 L320.6,458.1 L319.8,456.0 L319.0,454.0 L318.4,452.2 L317.9,450.9 L317.5,449.7 L317.2,448.6 L316.8,447.3 L316.2,445.8 L315.6,443.7 L314.7,441.0 L313.5,437.7 L312.1,433.7 L310.6,429.3 L309.0,424.6 L307.3,419.7 L305.6,414.8 L303.8,409.9 L302.2,405.3 L300.5,400.8 L298.7,396.2 L296.9,391.6 L295.1,387.1 L293.3,382.6 L291.7,378.3 L290.2,374.0 L289.0,369.9 L287.9,365.8 L287.1,361.6 L286.4,357.5 L285.8,353.4 L285.2,349.5 L284.8,345.8 L284.3,342.4 L283.8,339.5 L283.3,337.2 L282.9,335.4 L282.6,334.0 L282.2,332.8 L281.9,331.8 L281.6,330.9 L281.3,329.8 L281.0,328.4 L280.6,326.8 L280.1,325.0 L279.7,323.2 L279.2,321.3 L278.7,319.4 L278.2,317.5 L277.8,315.5 L277.3,313.7 L276.9,311.9 L276.5,310.2 L276.1,308.6 L275.7,307.1 L275.3,305.4 L274.9,303.6 L274.6,301.5 L274.2,298.9 L273.7,296.0 L273.2,292.7 L272.7,289.1 L272.2,285.3 L271.7,281.4 L271.2,277.5 L270.7,273.5 L270.3,269.8 L269.9,266.0 L269.6,262.2 L269.3,258.4 L269.0,254.5 L268.7,250.7 L268.5,247.0 L268.3,243.4 L268.1,239.9 L268.0,236.7 L267.9,233.8 L267.8,231.1 L267.8,228.5 L267.8,225.7 L267.7,222.6 L267.7,219.1 L267.7,215.0 L267.7,210.3 L267.6,205.2 L267.5,199.8 L267.5,194.0 L267.5,188.0 L267.4,181.8 L267.5,175.4 L267.5,168.8 L267.5,162.0 L267.6,154.9 L267.7,147.5 L267.8,140.0 L267.9,132.3 L268.0,124.6 L268.2,117.0 L268.4,109.5 L268.7,101.9 L269.0,94.1 L269.4,86.3 L269.8,78.4 L270.2,70.8 L270.6,63.4 L270.9,56.5 L271.2,50.1 L271.3,44.1 L271.4,38.3 L271.5,32.9 L271.5,27.8 L271.5,23.1 L271.5,19.1 L271.4,15.6 L271.4,12.9 Z"/>
  <path d="M335.8,521.5 L335.5,523.1 L335.1,525.1 L334.7,527.5 L334.1,530.3 L333.5,533.3 L332.9,536.6 L332.2,539.9 L331.5,543.4 L330.8,547.2 L330.0,551.2 L329.1,555.5 L328.2,560.0 L327.3,564.5 L326.4,569.1 L325.5,573.6 L324.6,578.0 L323.7,582.2 L322.9,586.1 L322.0,589.9 L321.1,593.7 L320.3,597.8 L319.4,602.2 L318.5,607.2 L317.7,612.7 L316.8,619.4 L315.8,627.2 L314.8,635.8 L313.8,644.5 L312.9,653.1 L312.0,660.9 L311.3,667.7 L310.8,672.8 L310.4,676.3 L310.1,678.5 L310.0,679.6 L310.0,680.2 L313.4,680.6 L313.5,680.3 L310.7,681.2 L310.1,679.9 L313.5,680.1 L312.9,678.5 L310.1,679.7 L310.0,679.8 L313.5,680.3 L313.5,680.0 L313.6,678.8 L313.9,676.7 L314.2,673.2 L314.8,668.1 L315.5,661.3 L316.4,653.5 L317.3,644.9 L318.3,636.2 L319.3,627.7 L320.2,619.9 L321.1,613.3 L322.0,607.7 L322.8,602.9 L323.7,598.5 L324.6,594.5 L325.4,590.6 L326.3,586.8 L327.1,582.9 L328.0,578.8 L328.9,574.3 L329.8,569.8 L330.8,565.2 L331.7,560.7 L332.6,556.2 L333.5,551.9 L334.3,547.9 L335.1,544.2 L335.8,540.6 L336.4,537.2 L337.1,534.0 L337.7,531.0 L338.2,528.2 L338.7,525.8 L339.1,523.8 L339.4,522.1 Z"/>
  <path d="M503.8,162.8 L503.4,165.5 L502.8,169.1 L502.1,173.3 L501.3,178.1 L500.4,183.1 L499.6,188.3 L498.7,193.3 L497.8,198.0 L496.9,202.5 L496.0,207.0 L495.1,211.5 L494.2,216.0 L493.2,220.6 L492.2,225.2 L491.1,229.8 L490.0,234.5 L488.9,239.2 L487.8,244.0 L486.6,248.8 L485.4,253.7 L484.2,258.5 L482.9,263.4 L481.6,268.3 L480.3,273.1 L478.9,278.0 L477.4,283.0 L475.9,288.0 L474.4,293.0 L472.9,297.9 L471.4,302.7 L470.0,307.3 L468.6,311.6 L467.3,315.7 L466.0,319.6 L464.7,323.4 L463.5,327.0 L462.3,330.5 L461.2,333.7 L460.2,336.6 L459.3,339.3 L458.5,341.6 L457.9,343.4 L457.3,344.8 L456.8,346.2 L456.3,347.5 L455.9,348.9 L455.4,350.6 L455.0,352.6 L454.6,355.0 L454.3,357.5 L454.0,360.3 L453.7,363.1 L453.5,366.0 L453.3,368.8 L453.1,371.6 L452.9,374.3 L452.8,376.8 L452.6,379.1 L452.5,381.5 L452.5,383.8 L452.4,386.1 L452.4,388.6 L452.5,391.3 L452.5,394.2 L452.6,397.5 L452.7,401.1 L452.8,404.9 L453.0,408.8 L453.2,412.7 L453.4,416.5 L453.6,420.1 L453.9,423.5 L454.2,426.6 L454.6,429.5 L455.1,432.2 L455.5,434.8 L456.0,437.3 L456.4,439.7 L456.8,442.1 L457.1,444.5 L457.4,446.8 L457.6,449.1 L457.8,451.3 L457.9,453.4 L458.1,455.6 L458.2,457.7 L458.2,459.9 L458.3,462.0 L458.3,464.3 L458.4,466.5 L458.4,468.8 L458.4,471.0 L458.3,473.2 L458.2,475.4 L458.1,477.6 L457.9,479.8 L457.7,481.8 L457.4,483.8 L457.0,485.6 L456.7,487.5 L456.2,489.5 L455.7,491.7 L455.2,494.1 L454.6,496.8 L454.0,499.9 L453.3,503.3 L452.5,507.1 L451.7,511.0 L450.9,514.9 L450.1,518.6 L449.3,522.0 L448.6,525.1 L448.1,527.8 L447.5,530.3 L446.9,532.7 L446.4,534.9 L446.0,536.9 L445.6,538.6 L445.2,540.1 L445.0,541.3 L448.6,542.1 L448.9,541.0 L449.3,539.5 L449.7,537.8 L450.2,535.8 L450.7,533.6 L451.3,531.2 L451.9,528.7 L452.6,525.9 L453.2,522.9 L454.0,519.4 L454.8,515.7 L455.7,511.8 L456.5,508.0 L457.3,504.2 L458.1,500.7 L458.8,497.6 L459.3,495.0 L459.8,492.6 L460.3,490.4 L460.8,488.4 L461.2,486.4 L461.5,484.4 L461.8,482.4 L462.1,480.2 L462.3,477.9 L462.4,475.7 L462.5,473.4 L462.6,471.1 L462.6,468.8 L462.6,466.5 L462.5,464.2 L462.5,462.0 L462.4,459.7 L462.4,457.5 L462.3,455.3 L462.1,453.1 L462.0,450.9 L461.8,448.7 L461.5,446.4 L461.3,443.9 L461.0,441.5 L460.6,439.0 L460.1,436.6 L459.7,434.1 L459.2,431.5 L458.8,428.9 L458.4,426.1 L458.1,423.1 L457.8,419.8 L457.6,416.3 L457.4,412.5 L457.2,408.6 L457.0,404.7 L456.9,400.9 L456.8,397.4 L456.7,394.2 L456.7,391.3 L456.6,388.6 L456.6,386.2 L456.7,383.9 L456.7,381.6 L456.8,379.3 L457.0,377.0 L457.1,374.5 L457.3,371.9 L457.5,369.1 L457.7,366.3 L457.9,363.5 L458.2,360.7 L458.5,358.1 L458.8,355.6 L459.2,353.4 L459.5,351.5 L459.9,350.1 L460.3,348.8 L460.7,347.6 L461.2,346.4 L461.8,344.8 L462.5,343.0 L463.3,340.7 L464.2,338.0 L465.2,335.0 L466.2,331.8 L467.4,328.4 L468.6,324.7 L469.8,320.9 L471.1,316.9 L472.4,312.8 L473.7,308.5 L475.2,303.9 L476.6,299.1 L478.1,294.1 L479.6,289.1 L481.1,284.1 L482.6,279.0 L483.9,274.1 L485.2,269.2 L486.5,264.4 L487.8,259.5 L489.0,254.6 L490.2,249.7 L491.3,244.9 L492.5,240.1 L493.6,235.3 L494.6,230.6 L495.7,226.0 L496.7,221.3 L497.6,216.8 L498.6,212.2 L499.5,207.7 L500.4,203.1 L501.2,198.6 L502.0,193.9 L502.9,188.8 L503.7,183.7 L504.5,178.6 L505.2,173.8 L505.8,169.6 L506.4,166.0 L506.8,163.2 Z"/>
  <path d="M445.0,542.4 L445.5,543.6 L446.1,545.2 L446.8,547.1 L447.5,549.2 L448.4,551.5 L449.2,553.8 L450.0,556.2 L450.8,558.5 L451.6,560.8 L452.5,563.1 L453.4,565.3 L454.3,567.6 L455.1,570.0 L455.8,572.5 L456.4,575.2 L456.8,578.2 L457.0,581.4 L456.9,585.0 L456.7,588.8 L456.4,592.8 L456.1,597.0 L455.8,601.4 L455.6,605.9 L455.6,610.5 L455.8,615.4 L456.1,620.6 L456.6,626.1 L457.1,631.6 L457.6,637.0 L458.0,642.2 L458.5,646.9 L458.8,651.1 L459.1,654.9 L459.3,658.3 L459.5,661.4 L459.6,664.2 L459.8,666.8 L459.9,669.1 L460.0,671.2 L460.1,673.1 L460.2,674.7 L460.2,676.0 L460.3,677.1 L460.3,677.9 L460.3,678.6 L460.3,679.1 L460.3,679.6 L460.3,680.0 L464.1,680.0 L464.1,679.5 L464.1,679.1 L464.1,678.5 L464.1,677.8 L464.1,677.0 L464.0,675.9 L464.0,674.6 L463.9,672.9 L463.8,671.0 L463.7,668.9 L463.6,666.6 L463.4,664.0 L463.3,661.2 L463.1,658.0 L462.9,654.6 L462.6,650.9 L462.3,646.6 L461.8,641.8 L461.3,636.6 L460.8,631.2 L460.4,625.8 L459.9,620.4 L459.6,615.2 L459.4,610.5 L459.4,606.0 L459.6,601.6 L459.8,597.3 L460.2,593.1 L460.5,589.1 L460.7,585.1 L460.8,581.4 L460.6,577.8 L460.2,574.5 L459.5,571.6 L458.7,568.8 L457.9,566.3 L457.0,563.9 L456.0,561.7 L455.2,559.5 L454.4,557.3 L453.6,555.0 L452.8,552.6 L451.9,550.2 L451.1,547.9 L450.3,545.8 L449.6,543.9 L449.0,542.3 L448.6,541.0 Z"/>
  <path d="M336.0,522.2 L336.4,523.2 L336.8,524.6 L337.2,526.2 L337.8,528.1 L338.3,530.0 L338.9,532.1 L339.5,534.2 L340.0,536.2 L340.7,538.4 L341.4,540.9 L342.1,543.5 L342.8,546.1 L343.5,548.6 L344.2,550.9 L344.8,552.8 L345.2,554.2 L345.6,554.2 L345.3,552.7 L345.0,550.7 L344.5,548.4 L344.0,545.8 L343.5,543.2 L342.9,540.5 L342.4,538.0 L342.0,535.8 L341.5,533.7 L341.1,531.6 L340.7,529.5 L340.3,527.5 L339.9,525.6 L339.6,523.9 L339.3,522.5 L339.2,521.4 Z"/>
  <path d="M445.8,539.7 L445.8,540.7 L445.6,542.0 L445.5,543.6 L445.3,545.4 L445.1,547.2 L444.9,549.1 L444.7,551.0 L444.5,552.9 L444.4,554.8 L444.2,556.9 L444.0,559.1 L443.9,561.2 L443.7,563.3 L443.6,565.2 L443.5,566.8 L443.5,568.0 L443.9,568.0 L444.1,566.9 L444.4,565.3 L444.7,563.4 L445.1,561.4 L445.4,559.2 L445.8,557.1 L446.1,555.0 L446.5,553.1 L446.8,551.3 L447.2,549.5 L447.6,547.6 L447.9,545.8 L448.3,544.1 L448.6,542.5 L448.9,541.2 L449.2,540.3 Z"/>
  <path d="M362.5,573.3 L362.6,574.4 L362.8,576.1 L363.1,578.0 L363.4,580.1 L363.7,582.3 L364.1,584.5 L364.5,586.5 L365.0,588.3 L365.5,589.9 L366.1,591.3 L366.7,592.6 L367.3,593.9 L367.9,595.1 L368.6,596.3 L369.3,597.4 L370.1,598.6 L371.0,599.8 L372.1,601.0 L373.3,602.3 L374.4,603.4 L375.5,604.6 L376.5,605.5 L377.4,606.3 L378.0,606.9 L378.4,606.7 L377.9,605.9 L377.2,605.0 L376.3,603.8 L375.4,602.6 L374.4,601.3 L373.5,599.9 L372.6,598.6 L371.9,597.4 L371.2,596.3 L370.5,595.1 L369.8,594.0 L369.2,592.9 L368.6,591.7 L368.1,590.4 L367.6,589.1 L367.0,587.7 L366.4,586.0 L365.8,584.1 L365.3,582.0 L364.7,579.8 L364.2,577.8 L363.7,575.9 L363.3,574.3 L362.9,573.1 Z"/>
  <path d="M424.1,568.0 L423.9,569.1 L423.7,570.5 L423.5,572.3 L423.2,574.2 L423.0,576.2 L422.7,578.2 L422.3,580.1 L421.9,581.8 L421.6,583.4 L421.2,584.9 L420.7,586.4 L420.3,587.9 L419.7,589.4 L419.2,590.8 L418.6,592.2 L418.0,593.5 L417.4,594.9 L416.7,596.3 L416.0,597.8 L415.2,599.2 L414.5,600.5 L413.8,601.7 L413.2,602.7 L412.8,603.5 L413.2,603.7 L413.7,603.1 L414.5,602.2 L415.3,601.1 L416.3,599.9 L417.3,598.6 L418.3,597.2 L419.2,595.8 L420.0,594.5 L420.6,593.1 L421.2,591.6 L421.8,590.1 L422.3,588.6 L422.8,587.1 L423.3,585.5 L423.7,583.9 L424.1,582.2 L424.3,580.4 L424.4,578.4 L424.5,576.3 L424.6,574.3 L424.6,572.3 L424.6,570.6 L424.6,569.1 L424.5,568.0 Z"/>
</g>
<path d="M466.8,462.8 C474,478 484,490 495,499" fill="none" stroke="#e6e4e4" stroke-width="0.9"/>

<!-- ============ LIGAMENT + BONE ============ -->
<g id="ligament" stroke-linecap="round" stroke-linejoin="round">
  <path d="M294.0,9.0 C294.8,10.0 296.5,12.6 299.0,15.0 C301.5,17.4 305.8,20.8 309.0,23.5 C312.2,26.2 314.9,28.1 318.4,31.0 C321.9,34.0 326.4,38.0 330.0,41.2 C333.6,44.4 331.9,44.2 340.0,50.3 C348.1,56.4 363.9,67.3 378.9,77.7 C393.9,88.1 416.6,103.8 430.0,112.5 C443.4,121.2 450.7,125.2 459.2,129.9 C467.7,134.6 474.5,138.0 481.1,140.9 C487.7,143.8 495.0,146.2 498.6,147.4 C502.2,148.6 502.3,148.2 503.0,148.3 L500.0,158.0 C499.5,157.7 500.3,157.8 497.2,156.2 C494.1,154.6 487.4,151.7 481.1,148.4 C474.8,145.2 467.7,141.4 459.2,136.7 C450.7,131.9 443.4,128.1 430.0,119.9 C416.6,111.7 391.1,95.3 378.9,87.6 C366.7,79.9 364.0,78.2 357.0,73.5 C350.0,68.8 342.3,63.4 337.0,59.5 C331.7,55.6 329.5,53.3 325.4,50.3 C321.3,47.3 316.7,43.7 312.6,41.5 C308.5,39.3 303.8,38.1 301.0,37.2 C298.2,36.3 296.8,36.2 296.0,36.0 Z" fill="#b6a4a2"/>
  <path d="M294.0,9.0 C294.8,10.0 296.5,12.6 299.0,15.0 C301.5,17.4 305.8,20.8 309.0,23.5 C312.2,26.2 314.9,28.1 318.4,31.0 C321.9,34.0 326.4,38.0 330.0,41.2 C333.6,44.4 331.9,44.2 340.0,50.3 C348.1,56.4 363.9,67.3 378.9,77.7 C393.9,88.1 416.6,103.8 430.0,112.5 C443.4,121.2 450.7,125.2 459.2,129.9 C467.7,134.6 474.5,138.0 481.1,140.9 C487.7,143.8 495.0,146.2 498.6,147.4 C502.2,148.6 502.3,148.2 503.0,148.3" fill="none" stroke="#000" stroke-width="3"/>
  <path d="M296.0,36.0 C296.8,36.2 298.2,36.3 301.0,37.2 C303.8,38.1 308.5,39.3 312.6,41.5 C316.7,43.7 321.3,47.3 325.4,50.3 C329.5,53.3 331.7,55.6 337.0,59.5 C342.3,63.4 350.0,68.8 357.0,73.5 C364.0,78.2 366.7,79.9 378.9,87.6 C391.1,95.3 416.6,111.7 430.0,119.9 C443.4,128.1 450.7,131.9 459.2,136.7 C467.7,141.4 474.8,145.2 481.1,148.4 C487.4,151.7 494.1,154.6 497.2,156.2 C500.3,157.8 499.5,157.7 500.0,158.0" fill="none" stroke="#000" stroke-width="2.3"/>
  <path d="M272.5,10.0 C272.9,8.2 274.2,5.8 276.0,4.5 C277.8,3.2 280.9,2.4 283.4,2.3 C285.9,2.2 288.9,2.8 291.0,4.0 C293.1,5.2 295.0,7.2 296.2,9.5 C297.4,11.8 298.1,15.2 298.2,17.5 C298.3,19.8 297.0,21.4 296.6,23.0 C296.2,24.6 295.4,25.9 295.8,27.0 C296.2,28.1 298.3,28.6 299.0,29.5 C299.7,30.4 300.3,31.2 300.2,32.5 C300.1,33.8 299.9,35.9 298.5,37.4 C297.1,38.9 294.0,41.3 291.5,41.3 C289.0,41.3 285.7,39.1 283.6,37.4 C281.5,35.7 280.2,33.3 279.0,31.0 C277.8,28.7 277.3,26.1 276.4,23.4 C275.5,20.7 274.1,17.2 273.5,15.0 C272.9,12.8 272.1,11.8 272.5,10.0 Z" fill="#c6a780" stroke="#000" stroke-width="2.6"/>
  <path d="M296.4,22 C294.5,25 295,27.5 297.5,29" fill="none" stroke="#000" stroke-width="2"/>
  <circle cx="505.8" cy="155.6" r="5.6" fill="#c6a780" stroke="#000" stroke-width="2.4"/>
  <path d="M503,148.6 L511,148.2 M507,162.3 L514,162.6" stroke="#000" stroke-width="1" fill="none"/>
</g>

<!-- ============ FLAP ============ -->
<g id="flap" stroke-linejoin="round">
  <path d="M214.5,224.4 L227.5,235 C236,255 245,282 249.2,313 C250.6,327 249.6,342 247,355 C240,385 221,410 198.5,431.6 L189.4,422.2 Z" fill="#f6c8b2" stroke="#000" stroke-width="2.7"/>
  <path d="M227,236 C235,256 243.8,283 248,313 C249.2,328 248.2,342 245.6,354.5 C238.5,384 220,409 198.5,430 L194.8,426.3 C216,404 233.5,381 240.8,353.5 C243.5,340 244.8,328 243.8,314 C240,283 233,257 224.5,233.5 Z" fill="#e0a591"/>
  <path d="M214.5,224.4 C205,250 180,270 169,300 C164,315 163,322 163.4,328.6 C163,350 168,375 176,395 C180,405 184,414 189.4,422.2 C210,398 228,375 234.6,348.7 C237.8,335 239.4,325 238.8,315.3 C236,280 226,250 214.5,224.4 Z" fill="#f5a755" stroke="#000" stroke-width="2.6"/>
</g>

<!-- ============ PERFORATOR VESSEL ============ -->
<g id="perforator">
  <path d="M215.8,331.2 L216.3,331.8 L216.9,332.5 L217.6,333.3 L218.5,334.3 L219.4,335.2 L220.3,336.2 L221.2,337.1 L222.1,338.0 L223.0,338.7 L223.9,339.3 L224.8,339.9 L225.7,340.6 L226.6,341.2 L227.5,341.7 L228.3,342.3 L229.2,342.9 L230.2,343.3 L231.2,343.8 L232.2,344.2 L233.2,344.6 L234.2,345.0 L235.0,345.3 L235.7,345.6 L236.3,345.7 L236.7,345.1 L236.3,344.6 L235.7,344.2 L235.0,343.6 L234.2,343.0 L233.3,342.3 L232.4,341.7 L231.6,341.0 L230.8,340.3 L230.0,339.8 L229.1,339.2 L228.2,338.7 L227.4,338.1 L226.5,337.5 L225.6,336.9 L224.8,336.2 L223.9,335.6 L222.9,335.0 L221.8,334.4 L220.7,333.7 L219.6,332.9 L218.6,332.2 L217.6,331.6 L216.8,331.1 L216.2,330.8 Z" fill="#cf8a3e" opacity="0.8"/>
  <path d="M199.5,323.5 L199.8,323.5 L200.2,323.4 L200.6,323.3 L201.1,323.2 L201.6,323.1 L202.2,323.0 L202.7,323.0 L203.1,323.0 L203.5,323.0 L204.0,323.0 L204.4,323.0 L204.8,323.1 L205.2,323.2 L205.7,323.3 L206.2,323.5 L206.7,323.6 L207.2,323.9 L207.9,324.2 L208.7,324.6 L209.5,325.0 L210.2,325.4 L210.9,325.8 L211.5,326.1 L211.9,326.4 L213.1,324.0 L212.6,323.8 L212.0,323.6 L211.3,323.2 L210.5,322.9 L209.7,322.5 L208.9,322.1 L208.1,321.8 L207.3,321.6 L206.7,321.4 L206.1,321.3 L205.5,321.2 L205.0,321.2 L204.4,321.2 L203.9,321.3 L203.4,321.3 L202.9,321.4 L202.4,321.6 L201.8,321.8 L201.3,322.1 L200.8,322.3 L200.3,322.6 L199.9,322.9 L199.6,323.1 L199.3,323.3 Z" fill="#3a0508"/>
  <path d="M209.0,310.4 L209.0,311.1 L209.0,312.0 L209.0,313.1 L209.1,314.2 L209.2,315.5 L209.3,316.7 L209.4,317.9 L209.6,319.0 L209.9,319.9 L210.1,320.8 L210.3,321.7 L210.6,322.6 L211.0,323.5 L211.4,324.4 L211.9,325.3 L212.5,326.2 L213.3,327.0 L214.1,327.9 L215.0,328.7 L215.9,329.5 L216.9,330.3 L217.9,331.1 L219.0,331.9 L220.1,332.7 L221.2,333.6 L222.5,334.5 L223.8,335.4 L225.1,336.4 L226.5,337.3 L227.9,338.2 L229.3,339.1 L230.6,340.0 L232.0,340.8 L233.3,341.6 L234.6,342.4 L235.9,343.2 L237.2,343.9 L238.5,344.7 L239.8,345.4 L241.1,346.2 L242.4,346.9 L243.7,347.7 L245.0,348.6 L246.4,349.4 L247.7,350.2 L249.0,351.0 L250.3,351.7 L251.5,352.5 L252.8,353.2 L254.0,353.9 L255.2,354.5 L256.3,355.2 L257.5,355.8 L258.7,356.5 L260.0,357.1 L261.3,357.7 L262.6,358.4 L263.9,359.0 L265.3,359.6 L266.7,360.2 L268.1,360.8 L269.5,361.3 L271.0,361.9 L272.4,362.4 L273.9,362.9 L275.3,363.4 L276.8,363.9 L278.3,364.4 L279.8,364.9 L281.3,365.3 L282.9,365.8 L284.4,366.2 L285.9,366.5 L287.5,366.9 L289.1,367.2 L290.8,367.5 L292.4,367.8 L293.9,368.0 L295.5,368.2 L296.9,368.3 L298.3,368.3 L299.6,368.3 L300.9,368.2 L302.1,368.1 L303.3,367.9 L304.5,367.7 L305.5,367.5 L306.6,367.2 L307.7,366.8 L308.7,366.3 L309.7,365.8 L310.6,365.3 L311.4,364.8 L312.1,364.3 L312.6,364.0 L313.0,363.7 L311.0,360.3 L310.5,360.6 L309.9,361.0 L309.2,361.4 L308.5,361.9 L307.7,362.3 L307.0,362.8 L306.2,363.1 L305.4,363.4 L304.5,363.6 L303.6,363.9 L302.6,364.1 L301.6,364.2 L300.6,364.4 L299.5,364.5 L298.3,364.5 L297.1,364.5 L295.8,364.4 L294.4,364.3 L292.9,364.1 L291.4,363.9 L289.8,363.6 L288.3,363.3 L286.7,363.0 L285.2,362.6 L283.7,362.3 L282.3,361.9 L280.8,361.5 L279.3,361.1 L277.9,360.6 L276.4,360.2 L275.0,359.7 L273.6,359.2 L272.2,358.7 L270.8,358.2 L269.4,357.6 L268.0,357.0 L266.7,356.5 L265.3,355.9 L264.0,355.3 L262.7,354.7 L261.5,354.1 L260.3,353.5 L259.1,352.8 L258.0,352.2 L256.8,351.6 L255.7,350.9 L254.5,350.2 L253.3,349.5 L252.0,348.8 L250.7,348.0 L249.4,347.3 L248.1,346.5 L246.8,345.7 L245.5,344.8 L244.2,344.0 L242.9,343.2 L241.6,342.5 L240.3,341.7 L239.0,340.9 L237.7,340.2 L236.4,339.4 L235.1,338.6 L233.8,337.8 L232.6,337.0 L231.3,336.1 L230.0,335.2 L228.6,334.3 L227.3,333.3 L226.0,332.4 L224.7,331.5 L223.5,330.6 L222.3,329.7 L221.3,328.9 L220.2,328.1 L219.2,327.3 L218.3,326.6 L217.4,325.9 L216.6,325.2 L215.9,324.5 L215.3,323.8 L214.6,323.2 L214.1,322.6 L213.6,322.0 L213.1,321.4 L212.7,320.7 L212.3,320.0 L211.9,319.2 L211.6,318.4 L211.2,317.5 L210.9,316.4 L210.6,315.3 L210.3,314.1 L210.0,312.9 L209.8,311.9 L209.6,311.0 L209.4,310.4 Z" fill="#3a0508"/>
  <path d="M199.4,323.4 L199.7,323.3 L200.1,323.2 L200.5,323.1 L201.0,322.9 L201.5,322.8 L202.1,322.6 L202.6,322.5 L203.0,322.5 L203.5,322.5 L203.9,322.5 L204.4,322.5 L204.8,322.6 L205.3,322.6 L205.8,322.7 L206.3,322.9 L206.8,323.1 L207.5,323.3 L208.2,323.6 L209.0,324.0 L209.7,324.4 L210.5,324.8 L211.2,325.2 L211.8,325.5 L212.2,325.8 L212.8,324.6 L212.4,324.4 L211.8,324.1 L211.0,323.8 L210.3,323.4 L209.4,323.0 L208.6,322.7 L207.8,322.4 L207.2,322.1 L206.5,322.0 L206.0,321.9 L205.4,321.8 L204.9,321.8 L204.4,321.8 L203.9,321.8 L203.4,321.8 L203.0,321.9 L202.5,322.0 L201.9,322.2 L201.4,322.4 L200.9,322.6 L200.4,322.9 L200.0,323.1 L199.7,323.3 L199.4,323.4 Z" fill="#c9222e"/>
  <path d="M209.2,310.4 L209.2,311.1 L209.3,312.0 L209.4,313.0 L209.5,314.2 L209.6,315.4 L209.8,316.6 L210.0,317.8 L210.2,318.8 L210.4,319.7 L210.7,320.6 L210.9,321.5 L211.3,322.3 L211.6,323.1 L212.0,323.9 L212.5,324.8 L213.1,325.6 L213.9,326.5 L214.7,327.3 L215.5,328.1 L216.4,328.9 L217.4,329.7 L218.4,330.5 L219.4,331.3 L220.5,332.1 L221.7,333.0 L222.9,333.9 L224.2,334.8 L225.6,335.8 L226.9,336.7 L228.3,337.6 L229.7,338.6 L231.0,339.4 L232.3,340.2 L233.6,341.0 L235.0,341.8 L236.3,342.6 L237.6,343.3 L238.9,344.1 L240.2,344.8 L241.5,345.6 L242.8,346.3 L244.1,347.1 L245.4,348.0 L246.7,348.8 L248.0,349.6 L249.3,350.4 L250.6,351.1 L251.9,351.9 L253.1,352.6 L254.3,353.3 L255.5,353.9 L256.7,354.6 L257.9,355.2 L259.1,355.9 L260.3,356.5 L261.6,357.1 L262.9,357.7 L264.2,358.3 L265.6,358.9 L267.0,359.5 L268.4,360.1 L269.8,360.7 L271.2,361.2 L272.7,361.7 L274.1,362.3 L275.6,362.8 L277.0,363.3 L278.5,363.8 L280.0,364.2 L281.5,364.7 L283.0,365.1 L284.5,365.5 L286.1,365.8 L287.7,366.2 L289.3,366.5 L290.9,366.8 L292.5,367.1 L294.0,367.3 L295.5,367.5 L296.9,367.6 L298.3,367.6 L299.6,367.6 L300.9,367.5 L302.1,367.4 L303.2,367.3 L304.3,367.0 L305.4,366.8 L306.4,366.5 L307.4,366.2 L308.4,365.7 L309.4,365.2 L310.2,364.7 L311.0,364.2 L311.7,363.7 L312.3,363.4 L312.7,363.1 L311.3,360.9 L310.9,361.2 L310.3,361.6 L309.6,362.0 L308.9,362.5 L308.1,362.9 L307.3,363.4 L306.4,363.8 L305.6,364.1 L304.7,364.3 L303.8,364.6 L302.8,364.8 L301.7,364.9 L300.6,365.1 L299.5,365.2 L298.3,365.2 L297.1,365.2 L295.7,365.1 L294.3,365.0 L292.8,364.8 L291.3,364.6 L289.7,364.3 L288.1,364.0 L286.6,363.7 L285.1,363.3 L283.6,363.0 L282.1,362.6 L280.6,362.2 L279.1,361.8 L277.7,361.3 L276.2,360.8 L274.8,360.4 L273.3,359.9 L271.9,359.3 L270.5,358.8 L269.1,358.2 L267.7,357.7 L266.4,357.1 L265.0,356.5 L263.7,355.9 L262.4,355.3 L261.2,354.7 L260.0,354.1 L258.8,353.5 L257.6,352.8 L256.5,352.2 L255.3,351.5 L254.1,350.8 L252.9,350.1 L251.6,349.4 L250.4,348.6 L249.1,347.9 L247.8,347.1 L246.5,346.3 L245.1,345.4 L243.8,344.6 L242.5,343.8 L241.2,343.1 L239.9,342.3 L238.6,341.5 L237.3,340.8 L236.0,340.0 L234.8,339.2 L233.5,338.4 L232.2,337.6 L230.9,336.7 L229.6,335.8 L228.2,334.9 L226.9,333.9 L225.5,333.0 L224.3,332.1 L223.0,331.1 L221.9,330.3 L220.8,329.5 L219.7,328.7 L218.7,327.9 L217.8,327.2 L216.9,326.5 L216.1,325.8 L215.3,325.1 L214.7,324.4 L214.0,323.7 L213.5,323.0 L213.0,322.3 L212.5,321.7 L212.1,321.0 L211.7,320.2 L211.3,319.4 L211.0,318.6 L210.7,317.6 L210.4,316.5 L210.1,315.3 L209.9,314.1 L209.7,313.0 L209.5,311.9 L209.3,311.0 L209.2,310.4 Z" fill="#c9222e"/>
  <path d="M222.0,331.0 C223.7,332.2 228.6,335.8 232.0,338.0 C235.4,340.2 239.0,342.1 242.5,344.2 C246.0,346.3 249.6,348.5 253.0,350.4 C256.4,352.3 259.5,354.0 263.0,355.6 C266.5,357.2 270.2,358.9 274.0,360.2 C277.8,361.5 281.7,362.7 285.5,363.6 C289.3,364.5 295.1,365.2 297.0,365.5" fill="none" stroke="#ea5560" stroke-width="0.8"/>
</g>

<!-- ============ LEADER LINES ============ -->
<g id="leaders" fill="none" stroke="#111" stroke-width="1.3">
  <path d="M378.8,30.6 L378.8,180.3"/>
  <path d="M192.3,166 L306,166"/>
  <path d="M174.4,220.4 L311,220.4"/>
  <path d="M120.4,329.2 L215,329.2"/>
  <path d="M374.4,374.3 L555,374.3"/>
  <path d="M382.6,198 L523.4,198 L523.4,351.5 L380.3,351.5" stroke="#1c1c1c" stroke-width="1.3"/>
  <path d="M523.4,270.5 L564.5,270.5" stroke="#1c1c1c" stroke-width="1.3"/>
  <g transform="rotate(-7 369.6 200)">
    <path d="M362.6,196.6 C358.5,197.2 356.3,198.5 356.3,200 C356.3,202.4 362.2,204.3 369.6,204.3 C377,204.3 382.9,202.4 382.9,200 C382.9,198.2 379.6,196.7 374.9,196" stroke="#000" stroke-width="1.9" stroke-linecap="round"/>
  </g>
  <g transform="rotate(-6 371.3 354.6)">
    <path d="M368.6,351.4 C364.8,351.9 362.3,353.1 362.3,354.6 C362.3,356.4 366.3,357.9 371.3,357.9 C376.3,357.9 380.3,356.4 380.3,354.6 C380.3,353 377.3,351.7 373.4,351.4" stroke="#000" stroke-width="1.6" stroke-linecap="round"/>
  </g>
</g>

<!-- ============ LABELS ============ -->
<g id="labels" filter="url(#noop)">
  <text x="360" y="27.7" textLength="252" lengthAdjust="spacing">Lateral circumflex femoral artery (LCF)</text>
  <text x="67.5" y="169.7" textLength="116.7" lengthAdjust="spacing">Ascending branch</text>
  <text x="105.8" y="185.7" textLength="40.5" lengthAdjust="spacing">of LCF</text>
  <text x="54" y="225" textLength="119.7" lengthAdjust="spacing">Transverse branch</text>
  <text x="93.1" y="240.8" textLength="41.2" lengthAdjust="spacing">of LCF</text>
  <text x="2.6" y="334.1" textLength="111.7" lengthAdjust="spacing">Perforator, origin</text>
  <text x="51.9" y="350.5" textLength="18.1" lengthAdjust="spacingAndGlyphs">off</text>
  <text x="0.7" y="366.5" textLength="119.7" lengthAdjust="spacing">Transverse branch</text>
  <text x="40.5" y="382.7" textLength="41" lengthAdjust="spacing">of LCF</text>
  <text x="568.2" y="274.8" textLength="79.5" lengthAdjust="spacing">Cut sites for</text>
  <text x="553.7" y="291" textLength="113.2" lengthAdjust="spacing">flow through flap</text>
  <text x="559.3" y="381.3" textLength="125.2" lengthAdjust="spacing">Descending branch</text>
  <text x="601.7" y="396.9" textLength="13.4" lengthAdjust="spacingAndGlyphs">of</text>
  <text x="623.9" y="396.9" textLength="23.3" lengthAdjust="spacingAndGlyphs">LCF</text>
</g>
</svg>
</body>
</html>
